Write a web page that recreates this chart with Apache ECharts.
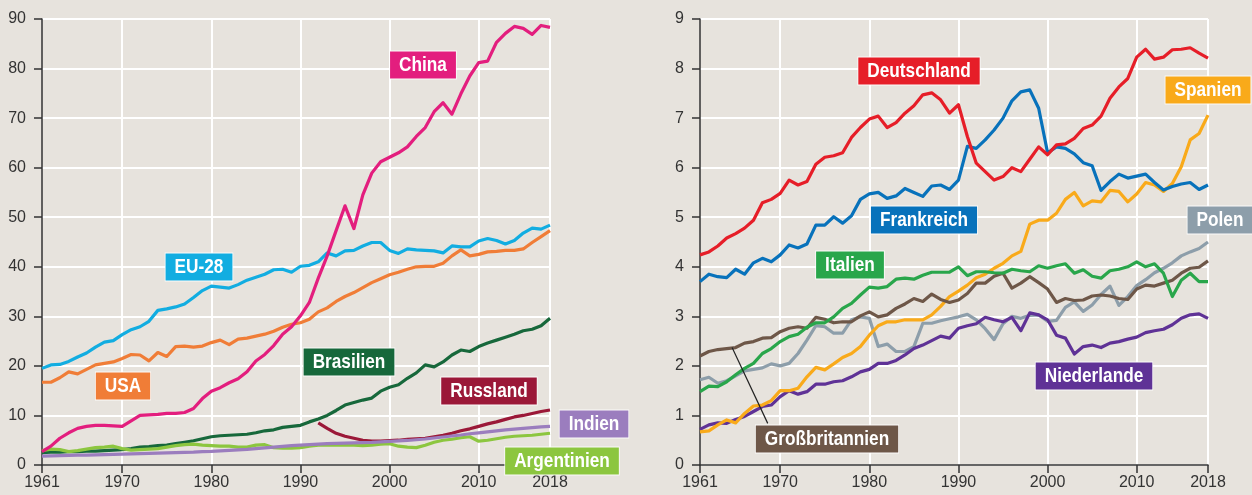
<!DOCTYPE html>
<html>
<head>
<meta charset="utf-8">
<script src="https://cdn.jsdelivr.net/npm/echarts@6/dist/echarts.min.js"></script>
<style>
  html, body { margin: 0; padding: 0; background: #e7e3dd; }
  #chart { width: 1252px; height: 495px; }
</style>
</head>
<body>
<div id="chart"></div>
<script>
// Jahre 1961-2018
var years = [];
for (var y = 1961; y <= 2018; y++) years.push(String(y));

var yTicksLeft = [0, 90, 10];   // min, max, interval
var yTicksRight = [0, 9, 1];

var china = [2.7, 3.8, 5.4, 6.5, 7.4, 7.8, 8.0, 8.0, 7.9, 7.8,
  8.9, 10.0, 10.1, 10.2, 10.4, 10.4, 10.6, 11.4, 13.4, 14.9,
  15.6, 16.6, 17.4, 18.8, 21.0, 22.3, 24.1, 26.4, 27.9, 30.1,
  32.8, 37.7, 42.2, 47.3, 52.3, 47.7, 54.5, 58.9, 61.2, 62.1,
  63.0, 64.2, 66.3, 68.1, 71.3, 73.1, 70.8, 74.9, 78.5, 81.2,
  81.5, 85.3, 87.1, 88.5, 88.1, 86.9, 88.7, 88.3];
var eu28 = [19.5, 20.2, 20.3, 20.9, 21.8, 22.6, 23.8, 24.8, 25.1, 26.3,
  27.3, 27.9, 29.0, 31.2, 31.5, 31.9, 32.5, 33.8, 35.2, 36.1,
  35.9, 35.7, 36.4, 37.3, 37.9, 38.5, 39.4, 39.5, 38.9, 40.1,
  40.3, 41.0, 42.8, 42.2, 43.2, 43.3, 44.2, 44.9, 44.9, 43.3,
  42.7, 43.6, 43.4, 43.3, 43.2, 42.8, 44.2, 44.0, 44.0, 45.2,
  45.7, 45.3, 44.6, 45.3, 46.8, 47.8, 47.6, 48.4];
var usa = [16.7, 16.7, 17.6, 18.8, 18.4, 19.3, 20.2, 20.5, 20.8, 21.5,
  22.3, 22.2, 21.0, 22.7, 21.9, 23.9, 24.0, 23.8, 24.0, 24.7,
  25.2, 24.3, 25.4, 25.6, 26.0, 26.4, 27.0, 27.8, 28.4, 28.7,
  29.4, 30.9, 31.7, 33.0, 34.0, 34.8, 35.8, 36.8, 37.6, 38.4,
  38.9, 39.5, 40.0, 40.1, 40.1, 40.7, 42.2, 43.4, 42.2, 42.5,
  43.0, 43.1, 43.3, 43.3, 43.6, 44.9, 46.1, 47.3];
var brasilien = [2.5, 2.6, 2.6, 2.7, 2.7, 2.8, 2.8, 2.9, 3.0, 3.1,
  3.3, 3.6, 3.7, 3.9, 4.0, 4.3, 4.6, 4.9, 5.3, 5.7,
  5.9, 6.0, 6.1, 6.2, 6.5, 6.9, 7.1, 7.6, 7.8, 8.0,
  8.7, 9.3, 10.0, 11.0, 12.1, 12.6, 13.1, 13.5, 14.9, 15.7,
  16.2, 17.5, 18.6, 20.2, 19.8, 20.8, 22.2, 23.2, 22.9, 23.9,
  24.6, 25.2, 25.8, 26.4, 27.1, 27.4, 28.1, 29.6];
// Russland erst ab 1992
var russland = [null, null, null, null, null, null, null, null, null, null,
  null, null, null, null, null, null, null, null, null, null,
  null, null, null, null, null, null, null, null, null, null,
  null, 8.5, 7.4, 6.4, 5.8, 5.4, 5.0, 4.8, 4.8, 4.9,
  5.0, 5.2, 5.3, 5.4, 5.7, 6.0, 6.4, 6.9, 7.3, 7.8,
  8.3, 8.7, 9.2, 9.7, 10.0, 10.4, 10.8, 11.1];
var indien = [1.8, 1.85, 1.9, 1.95, 2.0, 2.0, 2.05, 2.1, 2.15, 2.2,
  2.25, 2.3, 2.35, 2.4, 2.45, 2.5, 2.55, 2.6, 2.7, 2.75,
  2.85, 2.95, 3.05, 3.15, 3.3, 3.45, 3.6, 3.75, 3.9, 4.0,
  4.1, 4.2, 4.3, 4.35, 4.4, 4.45, 4.5, 4.55, 4.65, 4.75,
  4.85, 4.95, 5.1, 5.25, 5.45, 5.65, 5.85, 6.05, 6.3, 6.5,
  6.7, 6.9, 7.1, 7.25, 7.4, 7.55, 7.7, 7.8];
var argentinien = [2.9, 3.2, 3.1, 2.7, 2.9, 3.2, 3.5, 3.6, 3.8, 3.3,
  3.0, 3.1, 3.2, 3.3, 3.6, 3.9, 4.1, 4.2, 4.0, 3.9,
  3.8, 3.8, 3.6, 3.6, 4.0, 4.1, 3.5, 3.4, 3.4, 3.5,
  3.8, 4.0, 4.0, 4.0, 4.0, 4.0, 3.9, 4.0, 4.2, 4.3,
  3.8, 3.6, 3.5, 4.0, 4.6, 5.0, 5.2, 5.5, 5.7, 4.8,
  5.0, 5.3, 5.6, 5.8, 5.9, 6.0, 6.2, 6.4];

// rechte Grafik
var deutschland = [4.24, 4.30, 4.42, 4.58, 4.67, 4.78, 4.94, 5.29, 5.36, 5.48,
  5.75, 5.65, 5.72, 6.07, 6.21, 6.24, 6.30, 6.61, 6.81, 6.98,
  7.04, 6.81, 6.91, 7.10, 7.25, 7.47, 7.51, 7.37, 7.10, 7.27,
  6.63, 6.09, 5.92, 5.75, 5.82, 6.00, 5.92, 6.17, 6.42, 6.26,
  6.46, 6.48, 6.59, 6.79, 6.86, 7.04, 7.40, 7.63, 7.80, 8.23,
  8.39, 8.19, 8.23, 8.38, 8.39, 8.42, 8.31, 8.21];
var frankreich = [3.70, 3.85, 3.80, 3.78, 3.95, 3.85, 4.08, 4.17, 4.10, 4.24,
  4.44, 4.38, 4.46, 4.84, 4.84, 5.01, 4.88, 5.03, 5.36, 5.47,
  5.50, 5.38, 5.43, 5.58, 5.50, 5.42, 5.63, 5.65, 5.56, 5.75,
  6.43, 6.39, 6.56, 6.76, 7.00, 7.35, 7.53, 7.57, 7.20, 6.30,
  6.42, 6.39, 6.28, 6.10, 6.04, 5.54, 5.72, 5.87, 5.79, 5.83,
  5.87, 5.70, 5.55, 5.62, 5.67, 5.70, 5.56, 5.65];
var spanien = [0.67, 0.69, 0.81, 0.91, 0.85, 1.04, 1.19, 1.21, 1.30, 1.50,
  1.50, 1.55, 1.78, 1.97, 1.92, 2.04, 2.17, 2.25, 2.39, 2.62,
  2.81, 2.89, 2.89, 2.93, 2.93, 2.93, 3.03, 3.20, 3.40, 3.51,
  3.63, 3.78, 3.85, 3.97, 4.07, 4.22, 4.31, 4.86, 4.94, 4.94,
  5.08, 5.36, 5.50, 5.23, 5.33, 5.31, 5.54, 5.52, 5.31, 5.47,
  5.70, 5.65, 5.52, 5.68, 6.02, 6.56, 6.69, 7.06];
var polen = [1.72, 1.77, 1.65, 1.70, 1.80, 1.90, 1.93, 1.96, 2.04, 2.00,
  2.05, 2.25, 2.52, 2.81, 2.79, 2.66, 2.66, 2.93, 2.99, 2.96,
  2.39, 2.44, 2.29, 2.29, 2.39, 2.86, 2.86, 2.91, 2.95, 2.99,
  3.04, 2.93, 2.75, 2.53, 2.85, 3.00, 2.96, 3.02, 3.03, 2.90,
  2.92, 3.18, 3.29, 3.10, 3.23, 3.44, 3.61, 3.22, 3.40, 3.62,
  3.74, 3.88, 3.97, 4.08, 4.22, 4.30, 4.37, 4.50];
var italien = [1.48, 1.59, 1.58, 1.68, 1.82, 1.95, 2.05, 2.25, 2.35, 2.49,
  2.59, 2.64, 2.78, 2.87, 2.87, 2.99, 3.16, 3.26, 3.43, 3.59,
  3.57, 3.60, 3.75, 3.77, 3.75, 3.83, 3.89, 3.89, 3.89, 4.00,
  3.82, 3.90, 3.90, 3.88, 3.87, 3.95, 3.92, 3.90, 4.02, 3.97,
  4.02, 4.06, 3.87, 3.94, 3.81, 3.77, 3.92, 3.95, 4.00, 4.10,
  4.00, 4.06, 3.87, 3.40, 3.73, 3.87, 3.70, 3.70];
var grossbritannien = [2.20, 2.29, 2.33, 2.35, 2.37, 2.46, 2.49, 2.56, 2.57, 2.69,
  2.76, 2.79, 2.76, 2.98, 2.94, 2.87, 2.89, 2.89, 3.01, 3.09,
  2.99, 3.03, 3.16, 3.25, 3.36, 3.30, 3.45, 3.34, 3.28, 3.33,
  3.46, 3.67, 3.67, 3.81, 3.87, 3.57, 3.67, 3.80, 3.68, 3.55,
  3.28, 3.36, 3.32, 3.33, 3.41, 3.43, 3.41, 3.36, 3.34, 3.55,
  3.63, 3.61, 3.67, 3.73, 3.87, 3.97, 3.99, 4.12];
var niederlande = [0.72, 0.81, 0.85, 0.84, 0.92, 0.98, 1.08, 1.18, 1.21, 1.38,
  1.50, 1.43, 1.48, 1.63, 1.63, 1.68, 1.70, 1.78, 1.88, 1.93,
  2.05, 2.05, 2.11, 2.22, 2.35, 2.42, 2.51, 2.60, 2.56, 2.76,
  2.81, 2.85, 2.98, 2.93, 2.89, 2.98, 2.71, 3.07, 3.03, 2.93,
  2.62, 2.56, 2.24, 2.39, 2.42, 2.37, 2.46, 2.49, 2.54, 2.58,
  2.67, 2.71, 2.74, 2.83, 2.96, 3.03, 3.05, 2.96];

// Serien: [name, farbe, daten, grid]
var seriesDefs = [
  ['EU-28', '#12ade1', eu28, 0],
  ['USA', '#f07d37', usa, 0],
  ['Brasilien', '#17683b', brasilien, 0],
  ['Russland', '#9b1838', russland, 0],
  ['Argentinien', '#8cc63f', argentinien, 0],
  ['Indien', '#9b7dbe', indien, 0],
  ['China', '#e31e7e', china, 0],
  ['Polen', '#8d9eaa', polen, 1],
  ['Niederlande', '#5f3296', niederlande, 1],
  ['Spanien', '#f9aa1a', spanien, 1],
  ['Großbritannien', '#6e5748', grossbritannien, 1],
  ['Italien', '#29a64b', italien, 1],
  ['Frankreich', '#0872bb', frankreich, 1],
  ['Deutschland', '#e61e28', deutschland, 1]
];

// Beschriftungen: [name, jahr, wert, grid]
var labelDefs = [
  ['China', 2003.8, 80.7, 0],
  ['EU-28', 1978.6, 40.0, 0],
  ['USA', 1970.1, 15.9, 0],
  ['Brasilien', 1995.4, 20.7, 0],
  ['Russland', 2011.2, 15.0, 0],
  ['Indien', 2022.9, 8.3, 0],
  ['Argentinien', 2019.4, 0.8, 0],
  ['Deutschland', 1985.6, 7.96, 1],
  ['Frankreich', 1986.1, 4.95, 1],
  ['Spanien', 2018.0, 7.57, 1],
  ['Polen', 2019.3, 4.95, 1],
  ['Italien', 1977.8, 4.04, 1],
  ['Großbritannien', 1975.3, 0.52, 1],
  ['Niederlande', 2005.2, 1.80, 1]
];
// Hinweislinie Großbritannien: [jahr, wert] -> [jahr, wert]
var gbLeader = [[1964.6, 2.37], [1968.6, 0.84]];

var FONT_NUM = '"Liberation Sans", Arial, sans-serif';
var NARROW = 0.82; // schmale Schrift nachbilden

function showYear(idx, val) {
  return val === '1961' || val === '2018' || Number(val) % 10 === 0;
}
function gridYear(idx, val) {
  return val === '2018' || Number(val) % 10 === 0;
}

function makeX(g) {
  return {
    type: 'category', gridIndex: g, data: years, boundaryGap: false,
    axisLine: { show: true, lineStyle: { color: '#333', width: 1.5 } },
    axisTick: { show: true, length: 8, interval: showYear, lineStyle: { color: '#333', width: 1.5 } },
    axisLabel: { interval: showYear, color: '#333', fontSize: 16, fontFamily: FONT_NUM, margin: 10 },
    splitLine: { show: true, interval: gridYear, lineStyle: { color: '#ffffff', width: 2 } }
  };
}
function makeY(g, t) {
  return {
    type: 'value', gridIndex: g, min: t[0], max: t[1], interval: t[2],
    axisLine: { show: true, lineStyle: { color: '#333', width: 1.5 } },
    axisTick: { show: true, length: 8, lineStyle: { color: '#333', width: 1.5 } },
    axisLabel: { color: '#333', fontSize: 16, fontFamily: FONT_NUM, margin: 16 },
    splitLine: { show: true, lineStyle: { color: '#ffffff', width: 2 } }
  };
}

var chart = echarts.init(document.getElementById('chart'));

var series = seriesDefs.map(function (d) {
  return {
    name: d[0], type: 'line', xAxisIndex: d[3], yAxisIndex: d[3],
    data: d[2], showSymbol: false, connectNulls: false, animation: false,
    lineStyle: { color: d[1], width: 3.2, join: 'round' },
    itemStyle: { color: d[1] }
  };
});

chart.setOption({
  backgroundColor: '#e7e3dd',
  animation: false,
  grid: [
    { left: 42, top: 19, width: 508, height: 446 },
    { left: 700, top: 19, width: 508, height: 446 }
  ],
  xAxis: [makeX(0), makeX(1)],
  yAxis: [makeY(0, yTicksLeft), makeY(1, yTicksRight)],
  series: series
});

// Beschriftungen ueber Datenkoordinaten platzieren
function toPx(g, year, val) {
  var p0 = chart.convertToPixel({ xAxisIndex: g, yAxisIndex: g }, [0, val]);
  var p1 = chart.convertToPixel({ xAxisIndex: g, yAxisIndex: g }, [years.length - 1, val]);
  var step = (p1[0] - p0[0]) / (years.length - 1);
  return [p0[0] + (year - 1961) * step, p0[1]];
}

var colorOf = {};
seriesDefs.forEach(function (d) { colorOf[d[0]] = d[1]; });

var graphics = [];
var a = toPx(1, gbLeader[0][0], gbLeader[0][1]);
var b = toPx(1, gbLeader[1][0], gbLeader[1][1]);
graphics.push({
  type: 'line', z: 90,
  shape: { x1: a[0], y1: a[1], x2: b[0], y2: b[1] },
  style: { stroke: '#222', lineWidth: 1.2 }
});
labelDefs.forEach(function (l) {
  var p = toPx(l[3], l[1], l[2]);
  graphics.push({
    type: 'text', z: 100, x: Math.round(p[0]), y: Math.round(p[1]),
    scaleX: NARROW, scaleY: 1,
    style: {
      text: l[0], fill: '#ffffff',
      font: 'bold 21px ' + FONT_NUM,
      align: 'center', verticalAlign: 'middle',
      backgroundColor: colorOf[l[0]],
      padding: [3, 11, 3, 11],
      borderColor: 'rgba(255,255,255,0.85)', borderWidth: 1
    }
  });
});
chart.setOption({ graphic: graphics });
</script>
</body>
</html>
